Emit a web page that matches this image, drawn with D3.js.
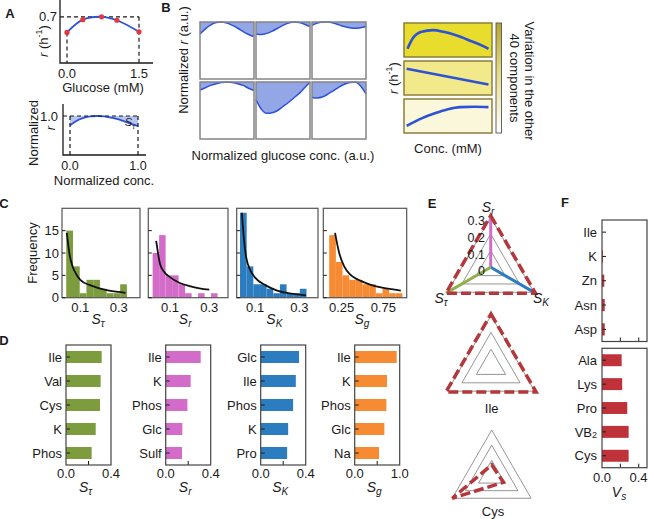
<!DOCTYPE html>
<html><head><meta charset="utf-8">
<script src="https://cdn.jsdelivr.net/npm/d3@7"></script>
<style>
body{margin:0;background:#fff}
svg{display:block}
text{font-family:"Liberation Sans",Arial,Helvetica,sans-serif;fill:#1a1a1a}
</style></head>
<body>
<script>
// ================= DATA =================
// Panel A (top): growth rate vs glucose
const glucoseMM = [0, 0.33, 0.72, 1.04, 1.5];
const growthRate = [0.565, 0.675, 0.70, 0.67, 0.57];
// Panel A (bottom): normalized curve
const normConc = [0,0.1,0.2,0.3,0.4,0.5,0.6,0.7,0.8,0.9,1.0];
const normRate = [0.88,0.94,0.975,0.995,1.0,0.995,0.98,0.96,0.93,0.90,0.87];
// Panel B (left): six normalized response curves
const bGridX = [0,0.1,0.2,0.3,0.4,0.5,0.6,0.7,0.8,0.9,1.0];
const bCurve1 = [0.79,0.88,0.95,0.99,1.0,0.98,0.94,0.89,0.83,0.78,0.745];
const bCurve2 = [0.79,0.78,0.80,0.84,0.89,0.94,0.98,1.0,0.99,0.96,0.92];
const bCurve3 = [0.94,0.98,1.0,1.0,0.98,0.95,0.92,0.90,0.89,0.90,0.92];
const bCurve4 = [0.86,0.90,0.94,0.97,0.99,1.0,0.99,0.97,0.94,0.89,0.85];
const bCurve5 = [0.69,0.52,0.45,0.46,0.50,0.57,0.64,0.72,0.80,0.90,1.0];
const bCurve6 = [0.73,0.72,0.74,0.79,0.85,0.91,0.96,0.99,1.0,0.93,0.79];
// Panel B (right): responses in three environments
const envConcA = [0.04,0.1,0.2,0.33,0.45,0.6,0.75,0.9,0.96];
const envRateA = [0.24,0.55,0.74,0.79,0.74,0.63,0.48,0.32,0.24];
const envConcB = [0.03,0.96];
const envRateB = [0.77,0.31];
const envConcC = [0.03,0.2,0.35,0.5,0.64,0.8,0.96];
const envRateC = [0.21,0.43,0.58,0.70,0.76,0.77,0.76];
const envColors = ["#e8dc2c","#f1e98a","#fbf7da"];
// Panel C: histograms (bin edges, counts, fitted curve)
const hTauEdges = [0.027,0.062,0.097,0.132,0.167,0.202,0.237,0.272,0.307,0.342];
const hTauCounts = [15,7,1,4,4,2,1,1,3];
const hTauFitX = [0.03,0.045,0.06,0.08,0.1,0.15,0.2,0.25,0.3,0.335];
const hTauFitY = [14.5,9.5,7,5.2,4,2.8,2.1,1.6,1.3,1.1];
const hREdges = [0.012,0.045,0.078,0.111,0.144,0.177,0.21,0.243,0.276,0.309,0.342];
const hRCounts = [10,14,5,5,3,1,0,1,0,1];
const hRFitX = [0.03,0.05,0.07,0.1,0.15,0.2,0.25,0.3];
const hRFitY = [12.7,7.5,5.8,4.6,3.3,2.6,2.1,1.8];
const hKEdges = [0.032,0.062,0.092,0.122,0.152,0.182,0.212,0.242,0.272,0.302,0.332];
const hKCounts = [19,7,3,3,2,1,3,1,1,2];
const hKFitX = [0.04,0.05,0.06,0.08,0.1,0.15,0.2,0.25,0.3,0.33];
const hKFitY = [19,13,9,6,4.5,2.7,1.6,1.0,0.7,0.5];
const hGEdges = [0.10,0.18,0.26,0.34,0.42,0.50,0.58,0.66,0.74,0.82,0.90,0.98];
const hGCounts = [14,8,5,4,4,3,3,1,2,1,1];
const hGFitX = [0.17,0.22,0.28,0.35,0.45,0.55,0.65,0.75,0.85,0.96];
const hGFitY = [14.5,10,7,5.2,4,3.2,2.6,2.2,1.9,1.6];
const freqTicks = [0,5,10,15];
// Panel D: top-5 bars
const dTauCats = ["Ile","Val","Cys","K","Phos"];
const dTauVals = [0.317,0.308,0.302,0.264,0.228];
const dRCats = ["Ile","K","Phos","Glc","Sulf"];
const dRVals = [0.311,0.222,0.193,0.148,0.145];
const dKCats = ["Glc","Ile","Phos","K","Pro"];
const dKVals = [0.341,0.312,0.288,0.244,0.235];
const dGCats = ["Ile","K","Phos","Glc","Na"];
const dGVals = [0.933,0.719,0.704,0.659,0.541];
// Panel E: radar values in order [S_r, S_K, S_tau]
const radarLevels = [0.1,0.2,0.3];
const radarKey = [0.31,0.31,0.31];
const radarIle = [0.31,0.31,0.31];
const radarCys = [0.07,0.09,0.30];
// Panel F
const fTopCats = ["Ile","K","Zn","Asn","Asp"];
const fTopVals = [0,0.01,0.025,0.03,0.03];
const fBotCats = ["Ala","Lys","Pro","VB2","Cys"];
const fBotVals = [0.214,0.22,0.275,0.29,0.29];

// ================= DRAW =================
const INK = "#1a1a1a", BLUE = "#2d52d6", FILLB = "#93a6e6";
const cGreen = "#7c9c3e", cPink = "#d36cc8", cBlue = "#2b7dbf", cOrange = "#f68b33", cRed = "#c0323a";
const svg = d3.select("body").append("svg").attr("width",648).attr("height",519);

function T(x,y,s,o={}){
  const t = svg.append("text").attr("x",x).attr("y",y)
    .attr("font-size",o.size||13).attr("text-anchor",o.anchor||"middle")
    .attr("dominant-baseline","central");
  if(o.weight) t.attr("font-weight",o.weight);
  if(o.italic) t.attr("font-style","italic");
  if(o.rotate) t.attr("transform",`rotate(${o.rotate},${x},${y})`);
  if(s!==null) t.text(s);
  return t;
}
function SUB(x,y,main,sub,o={}){
  const size=o.size||13;
  const t=T(x,y,null,o);
  t.append("tspan").attr("font-style","italic").text(main);
  t.append("tspan").attr("font-size",size*0.72).attr("dy",size*0.32).attr("font-style","italic").text(sub);
  return t;
}
function line(x1,y1,x2,y2,o={}){
  return svg.append("line").attr("x1",x1).attr("y1",y1).attr("x2",x2).attr("y2",y2)
    .attr("stroke",o.stroke||INK).attr("stroke-width",o.w||1.2).attr("stroke-dasharray",o.dash||null);
}

// panel letters
[["A",10,13],["B",166,7],["C",4,203],["D",4,340],["E",432,203],["F",565,202]]
  .forEach(d=>T(d[1],d[2],d[0],{weight:"bold",size:13}));

// ---- Panel A top
{
  const x = d3.scaleLinear().domain([0,1.5]).range([67,139]);
  const y = d3.scaleLinear().domain([0.3,0.75]).range([63,11]);
  svg.append("path").attr("d","M60,0V63H153").attr("fill","none").attr("stroke",INK).attr("stroke-width",1.3);
  line(60,y(0.7),x(1.5),y(0.7),{dash:"4,3"});
  line(x(1.5),y(0.7),x(1.5),63,{dash:"4,3"});
  line(x(0),y(growthRate[0]),x(0),63,{dash:"4,3"});
  const pts = glucoseMM.map((g,i)=>[x(g),y(growthRate[i])]);
  svg.append("path").attr("d",d3.line().curve(d3.curveCatmullRom)(pts)).attr("fill","none").attr("stroke",BLUE).attr("stroke-width",1.8);
  svg.selectAll(null).data(pts).enter().append("circle").attr("cx",d=>d[0]).attr("cy",d=>d[1]).attr("r",2.6).attr("fill","#e03a3a");
  T(57,y(0.7),"0.7",{anchor:"end"});
  T(x(0),73,"0.0"); T(x(1.5),73,"1.5");
  T(103,87.5,"Glucose (mM)");
  const t=T(43,41,null,{rotate:-90});
  t.append("tspan").attr("font-style","italic").text("r");
  t.append("tspan").text(" (h");
  t.append("tspan").attr("font-size",9).attr("dy",-4).text("-1");
  t.append("tspan").attr("dy",4).text(")");
}
// ---- Panel A bottom
{
  const x = d3.scaleLinear().domain([0,1]).range([70,138]);
  const y = d3.scaleLinear().domain([0.5,1]).range([155,116]);
  const area = d3.area().x((d,i)=>x(normConc[i])).y0(y(1)).y1(d=>y(d)).curve(d3.curveMonotoneX);
  svg.append("path").attr("d",area(normRate)).attr("fill","#b7c5f0");
  svg.append("path").attr("d",d3.line().x((d,i)=>x(normConc[i])).y(d=>y(d)).curve(d3.curveMonotoneX)(normRate))
    .attr("fill","none").attr("stroke",BLUE).attr("stroke-width",1.8);
  svg.append("path").attr("d","M63,104V155H146").attr("fill","none").attr("stroke",INK).attr("stroke-width",1.3);
  line(63,y(1),x(1),y(1),{dash:"4,3"});
  line(x(0),y(1),x(0),155,{dash:"4,3"});
  line(x(1),y(1),x(1),155,{dash:"4,3"});
  T(58,y(1),"1.0",{anchor:"end"});
  T(x(0),165.5,"0.0",{size:12.5}); T(x(1),165.5,"1.0",{size:12.5});
  T(104,180.5,"Normalized conc.");
  T(33,133,"Normalized",{rotate:-90});
  T(50,128,"r",{rotate:-90,italic:true});
  SUB(130,122,"S","τ",{size:11});
}
// ---- Panel B left
{
  const curves=[bCurve1,bCurve2,bCurve3,bCurve4,bCurve5,bCurve6];
  const lefts=[200,256,312], tops=[22,82], bw=54, bh=57;
  curves.forEach((c,i)=>{
    const x0=lefts[i%3], y0=tops[Math.floor(i/3)];
    const x=d3.scaleLinear().domain([0,1]).range([x0,x0+bw]);
    const y=d3.scaleLinear().domain([0,1]).range([y0+bh,y0]);
    svg.append("path").attr("d",d3.area().x((d,j)=>x(bGridX[j])).y0(y(1)).y1(d=>y(d)).curve(d3.curveMonotoneX)(c)).attr("fill",FILLB);
    svg.append("path").attr("d",d3.line().x((d,j)=>x(bGridX[j])).y(d=>y(d)).curve(d3.curveMonotoneX)(c)).attr("fill","none").attr("stroke",BLUE).attr("stroke-width",1.5);
    svg.append("rect").attr("x",x0).attr("y",y0).attr("width",bw).attr("height",bh).attr("fill","none").attr("stroke","#858585").attr("stroke-width",1.5);
  });
  const t=T(183,60,null,{rotate:-90});
  t.append("tspan").text("Normalized ");
  t.append("tspan").attr("font-style","italic").text("r");
  t.append("tspan").text(" (a.u.)");
  T(283,155,"Normalized glucose conc. (a.u.)");
}
// ---- Panel B right
{
  const sets=[[envConcA,envRateA],[envConcB,envRateB],[envConcC,envRateC]];
  const tops=[23,61,99], x0=404, bw=88, bh=34;
  sets.forEach((s,i)=>{
    const x=d3.scaleLinear().domain([0,1]).range([x0,x0+bw]);
    const y=d3.scaleLinear().domain([0,1]).range([tops[i]+bh,tops[i]]);
    svg.append("rect").attr("x",x0).attr("y",tops[i]).attr("width",bw).attr("height",bh).attr("fill",envColors[i]).attr("stroke","#8c7f3a").attr("stroke-width",1.5);
    svg.append("path").attr("d",d3.line().x((d,j)=>x(s[0][j])).y(d=>y(d)).curve(d3.curveMonotoneX)(s[1])).attr("fill","none").attr("stroke",BLUE).attr("stroke-width",2.6);
  });
  const defs=svg.append("defs");
  const gr=defs.append("linearGradient").attr("id","cb").attr("x1",0).attr("y1",0).attr("x2",0).attr("y2",1);
  gr.append("stop").attr("offset",0).attr("stop-color","#b6a42c");
  gr.append("stop").attr("offset",0.45).attr("stop-color","#e6dc86");
  gr.append("stop").attr("offset",1).attr("stop-color","#ffffff");
  svg.append("rect").attr("x",496).attr("y",23).attr("width",5.5).attr("height",110).attr("fill","url(#cb)").attr("stroke","#555").attr("stroke-width",0.9);
  T(529,81,"Variation in the other",{rotate:90});
  T(514,78,"40 components",{rotate:90});
  T(448,148,"Conc. (mM)");
  const t=T(393,78,null,{rotate:-90});
  t.append("tspan").attr("font-style","italic").text("r");
  t.append("tspan").text(" (h");
  t.append("tspan").attr("font-size",9).attr("dy",-4).text("-1");
  t.append("tspan").attr("dy",4).text(")");
}
// ---- Panel C
{
  const panels=[
    {e:hTauEdges,c:hTauCounts,fx:hTauFitX,fy:hTauFitY,col:cGreen,l:62,r:140,dom:[0.005,0.41],ticks:[0.1,0.3],fmt:".1f",sub:"τ"},
    {e:hREdges,c:hRCounts,fx:hRFitX,fy:hRFitY,col:cPink,l:148.3,r:228,dom:[-0.01,0.395],ticks:[0.1,0.3],fmt:".1f",sub:"r"},
    {e:hKEdges,c:hKCounts,fx:hKFitX,fy:hKFitY,col:cBlue,l:236.7,r:318,dom:[0.017,0.384],ticks:[0.1,0.3],fmt:".1f",sub:"K"},
    {e:hGEdges,c:hGCounts,fx:hGFitX,fy:hGFitY,col:cOrange,l:323.3,r:406.7,dom:[0.029,1.031],ticks:[0.25,0.75],fmt:".2f",sub:"g"}
  ];
  const top=208.3, bot=297.7;
  const y=d3.scaleLinear().domain([0,20]).range([bot,top]);
  panels.forEach((p,k)=>{
    const x=d3.scaleLinear().domain(p.dom).range([p.l,p.r]);
    svg.selectAll(null).data(p.c).enter().append("rect")
      .attr("x",(d,i)=>x(p.e[i])).attr("width",(d,i)=>x(p.e[i+1])-x(p.e[i]))
      .attr("y",d=>y(d)).attr("height",d=>bot-y(d)).attr("fill",p.col);
    svg.append("path").attr("d",d3.line().x((d,i)=>x(p.fx[i])).y(d=>y(d)).curve(d3.curveMonotoneX)(p.fy))
      .attr("fill","none").attr("stroke","#111").attr("stroke-width",1.8);
    svg.append("rect").attr("x",p.l).attr("y",top).attr("width",p.r-p.l).attr("height",bot-top).attr("fill","none").attr("stroke","#555").attr("stroke-width",1.2);
    freqTicks.forEach(v=>{ line(p.l,y(v),p.l+3.5,y(v),{w:1}); if(k===0) T(p.l-3,y(v),String(v),{anchor:"end"}); });
    p.ticks.forEach(v=>T(x(v),307.5,d3.format(p.fmt)(v)));
    SUB((p.l+p.r)/2-3,319,"S",p.sub,{size:14});
  });
  T(32,253,"Frequency",{rotate:-90});
}
// ---- Panel D
{
  const panels=[
    {c:dTauCats,v:dTauVals,col:cGreen,l:66,max:0.4,sub:"τ",tl:["0.0","0.4"]},
    {c:dRCats,v:dRVals,col:cPink,l:165.7,max:0.4,sub:"r",tl:["0.0","0.4"]},
    {c:dKCats,v:dKVals,col:cBlue,l:260.7,max:0.4,sub:"K",tl:["0.0","0.4"]},
    {c:dGCats,v:dGVals,col:cOrange,l:354.7,max:1.0,sub:"g",tl:["0.0","1.0"]}
  ];
  const top=345, bot=465, w=45;
  panels.forEach(p=>{
    const x=d3.scaleLinear().domain([0,p.max]).range([p.l,p.l+w]);
    const y=d3.scaleBand().domain(p.c).range([top,bot]).paddingInner(0.5).paddingOuter(0.25);
    svg.selectAll(null).data(p.v).enter().append("rect")
      .attr("x",x(0)).attr("y",(d,i)=>y(p.c[i])).attr("height",y.bandwidth()).attr("width",d=>x(d)-x(0))
      .attr("fill",p.col);
    p.c.forEach(c=>{ line(p.l,y(c)+y.bandwidth()/2,p.l+4,y(c)+y.bandwidth()/2,{w:1}); T(p.l-4,y(c)+y.bandwidth()/2,c,{anchor:"end"}); });
    line(x(p.max/2),bot,x(p.max/2),bot-4,{w:1});
    svg.append("rect").attr("x",p.l).attr("y",top).attr("width",w).attr("height",bot-top).attr("fill","none").attr("stroke","#444").attr("stroke-width",1.2);
    T(x(0),473.5,p.tl[0]); T(x(p.max),473.5,p.tl[1]);
    SUB(p.l+w/2-3,487,"S",p.sub,{size:14});
  });
}
// ---- Panel E
{
  const angles=[-90,30,150].map(a=>a*Math.PI/180);
  function radar(cx,cy,R,vals,spokes){
    const r=d3.scaleLinear().domain([0,0.3]).range([0,R]);
    const tri=v=>angles.map(a=>[cx+r(v)*Math.cos(a),cy+r(v)*Math.sin(a)]);
    radarLevels.forEach(v=>svg.append("polygon").attr("points",tri(v).map(p=>p.join(",")).join(" ")).attr("fill","none").attr("stroke","#8a8a8a").attr("stroke-width",0.9));
    if(spokes){
      [cPink,cBlue,"#8fb04a"].forEach((c,i)=>line(cx,cy,cx+r(vals[i])*Math.cos(angles[i]),cy+r(vals[i])*Math.sin(angles[i]),{stroke:c,w:3}));
    }
    const pts=vals.map((v,i)=>[cx+r(v)*Math.cos(angles[i]),cy+r(v)*Math.sin(angles[i])]);
    svg.append("polygon").attr("points",pts.map(p=>p.join(",")).join(" ")).attr("fill","none")
      .attr("stroke","#b3383b").attr("stroke-width",3.5).attr("stroke-dasharray","10,4");
    return r;
  }
  const r=radar(490.7,267.3,50,radarKey,true);
  [0.3,0.2,0.1,0].forEach(v=>T(485,267.3-r(v)+4,v===0?"0":d3.format(".1f")(v),{anchor:"end",size:12.5}));
  SUB(488,207,"S","r",{size:14});
  SUB(441,298,"S","τ",{size:14});
  SUB(541,298,"S","K",{size:14});
  radar(491,366,50.4,radarIle,false);
  T(491.7,408,"Ile");
  radar(491.7,475.5,45.5,radarCys,false);
  T(493,511.5,"Cys");
}
// ---- Panel F
{
  const x=d3.scaleLinear().domain([0,0.49]).range([602,647]);
  const boxes=[{c:fTopCats,v:fTopVals,top:220,bot:341.5},{c:fBotCats,v:fBotVals,top:348.3,bot:467.7}];
  boxes.forEach(b=>{
    const y=d3.scaleBand().domain(b.c).range([b.top,b.bot]).paddingInner(0.5).paddingOuter(0.25);
    svg.selectAll(null).data(b.v).enter().append("rect")
      .attr("x",x(0)).attr("y",(d,i)=>y(b.c[i])).attr("height",y.bandwidth()).attr("width",d=>x(d)-x(0)).attr("fill",cRed);
    b.c.forEach(c=>{
      const yy=y(c)+y.bandwidth()/2;
      line(602,yy,606,yy,{w:1});
      if(c==="VB2"){ const t=T(597,yy,null,{anchor:"end"}); t.append("tspan").text("VB"); t.append("tspan").attr("font-size",9).attr("dy",3).text("2"); }
      else T(597,yy,c,{anchor:"end"});
    });
    [0.2,0.4].forEach(v=>line(x(v),b.bot,x(v),b.bot-4,{w:1}));
    svg.append("rect").attr("x",602).attr("y",b.top).attr("width",45).attr("height",b.bot-b.top).attr("fill","none").attr("stroke","#444").attr("stroke-width",1.2);
  });
  T(x(0),477,"0.0"); T(647.5,477,"0.4",{anchor:"end"});
  SUB(619,492,"V","s",{size:14});
}
</script>
</body></html>
